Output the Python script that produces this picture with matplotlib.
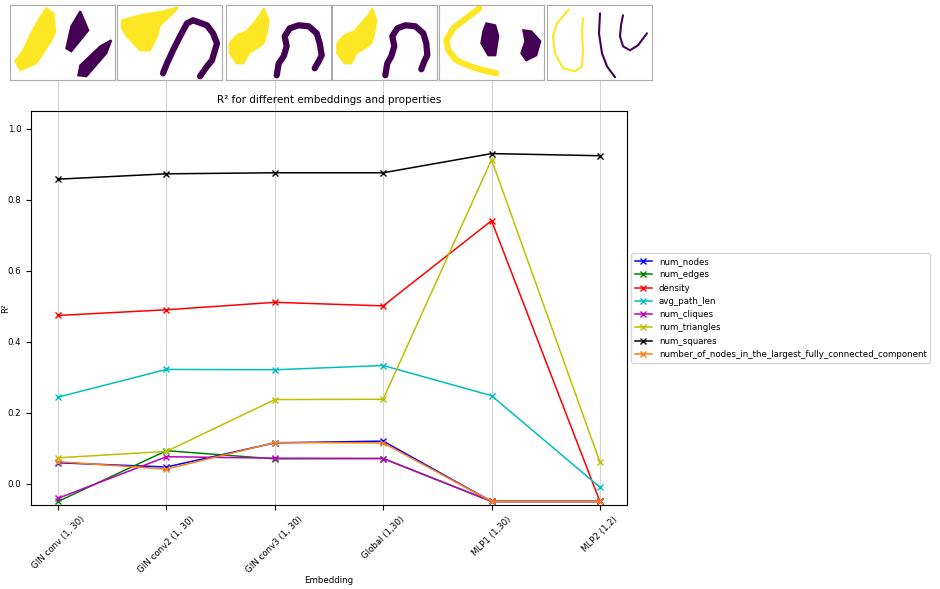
import matplotlib
matplotlib.use("Agg")
import matplotlib.pyplot as plt

plt.rcParams['font.size'] = 6.2

# embeddings on the x axis
embeddings = ['GIN conv (1, 30)', 'GIN conv2 (1, 30)', 'GIN conv3 (1, 30)',
              'Global (1,30)', 'MLP1 (1,30)', 'MLP2 (1,2)']

# R^2 per property
num_nodes = [0.059, 0.047, 0.115, 0.120, -0.05, -0.05]
num_edges = [-0.05, 0.093, 0.070, 0.071, -0.05, -0.05]
density = [0.474, 0.490, 0.511, 0.501, 0.741, -0.05]
avg_path_len = [0.244, 0.322, 0.321, 0.333, 0.248, -0.010]
num_cliques = [-0.041, 0.076, 0.072, 0.071, -0.05, -0.05]
num_triangles = [0.073, 0.091, 0.237, 0.238, 0.913, 0.061]
num_squares = [0.858, 0.873, 0.876, 0.876, 0.930, 0.924]
largest_component = [0.062, 0.041, 0.116, 0.115, -0.05, -0.05]

properties = ['num_nodes', 'num_edges', 'density', 'avg_path_len', 'num_cliques',
              'num_triangles', 'num_squares',
              'number_of_nodes_in_the_largest_fully_connected_component']
series = [num_nodes, num_edges, density, avg_path_len, num_cliques,
          num_triangles, num_squares, largest_component]
colors = ['b', 'g', 'r', 'c', 'm', 'y', 'k', 'tab:orange']

# thumbnail outlines (pixel units inside each 105x75 box), yellow class / purple class
# each entry: (class, kind, xs, ys) - "fill" is a blob, "line" a thick band, "curve" a thin curve
thumbs = [
    [('y', 'fill', [36, 43, 45, 41, 26, 10, 5, 13, 21, 28], [3, 8, 26, 35, 58, 65, 56, 45, 28, 15]),
     ('p', 'fill', [70, 78, 61, 56, 61], [6, 25, 46, 43, 21]),
     ('p', 'fill', [101, 96, 76, 68, 70, 90], [35, 48, 71, 70, 60, 41])],
    [('y', 'fill', [5, 23, 46, 61, 56, 43, 40, 33, 23, 10, 5], [15, 10, 6, 2, 8, 20, 31, 45, 45, 31, 23]),
     ('p', 'line', [46, 50, 56, 63, 70, 76, 90, 96, 100, 95, 90, 83], [68, 58, 45, 31, 18, 15, 20, 28, 38, 55, 61, 71])],
    [('y', 'fill', [38, 43, 41, 38, 31, 23, 18, 11, 4, 4, 11, 21, 28, 34], [3, 15, 28, 38, 43, 48, 58, 58, 48, 38, 30, 26, 18, 10]),
     ('p', 'line', [51, 53, 58, 61, 59, 64, 73, 83, 91, 94, 96, 93, 89], [70, 58, 51, 41, 31, 23, 20, 21, 28, 38, 50, 56, 63])],
    [('y', 'fill', [40, 44, 42, 39, 32, 24, 19, 12, 5, 5, 12, 22, 29, 36], [3, 15, 28, 38, 43, 48, 58, 58, 48, 38, 30, 26, 18, 10]),
     ('p', 'line', [53, 55, 59, 62, 60, 65, 73, 83, 91, 94, 95, 92, 89], [70, 58, 51, 41, 31, 23, 20, 21, 28, 38, 50, 56, 64])],
    [('y', 'line', [40, 27, 14, 7, 9, 17, 31, 44, 57], [3, 13, 23, 35, 45, 55, 61, 65, 68]),
     ('p', 'fill', [47, 56, 59, 56, 49, 42, 44], [18, 20, 31, 50, 50, 38, 26]),
     ('p', 'fill', [84, 92, 101, 97, 87, 82, 86], [25, 26, 36, 50, 55, 48, 36])],
    [('y', 'curve', [22, 10, 6, 8, 16, 28, 35, 36, 35, 36], [4, 18, 31, 48, 63, 66, 61, 45, 25, 13]),
     ('p', 'curve', [53, 52, 55, 60, 68], [8, 28, 48, 61, 72]),
     ('p', 'curve', [76, 74, 73, 76, 83, 91, 100], [10, 20, 31, 41, 45, 40, 28])],
]
thumb_left = [10.3, 117, 225.7, 332.3, 439.3, 547]
class_colors = {'y': '#fde725', 'p': '#440154'}

fig = plt.figure(figsize=(9.4, 5.89), dpi=100)
W, H = 940.0, 589.0

ax = fig.add_axes([31 / W, 1 - 505 / H, (627 - 31) / W, (505 - 111) / H])
xs = list(range(len(embeddings)))
for name, vals, c in zip(properties, series, colors):
    ax.plot(xs, vals, marker='x', color=c, label=name, lw=1.1, markersize=5)

for x in xs:
    ax.axvline(x, 0, 1.078, color='#d3d3d3', lw=0.8, zorder=0, clip_on=False)

ax.set_xticks(xs)
ax.set_xticklabels(embeddings, rotation=45)
ax.set_ylim(-0.06, 1.05)
ax.set_title('R² for different embeddings and properties')
ax.set_xlabel('Embedding', labelpad=1)
ax.set_ylabel('R²')
ax.yaxis.set_label_coords(-0.035, 0.5)
ax.legend(loc='center left', bbox_to_anchor=(1, 0.5))

for left, shapes in zip(thumb_left, thumbs):
    tax = fig.add_axes([left / W, 1 - 80.3 / H, 105 / W, 75 / H])
    for cls, kind, px, py in shapes:
        col = class_colors[cls]
        if kind == 'fill':
            tax.fill(px, py, color=col, lw=1.5)
        elif kind == 'line':
            tax.plot(px, py, color=col, lw=4.5, solid_capstyle='round', solid_joinstyle='round')
        else:
            tax.plot(px, py, color=col, lw=1.5, solid_capstyle='round', solid_joinstyle='round')
    tax.set_xlim(0, 105)
    tax.set_ylim(75, 0)
    tax.set_xticks([])
    tax.set_yticks([])
    for sp in tax.spines.values():
        sp.set_color('#aaaaaa')

fig.savefig('out.png', dpi=100)
